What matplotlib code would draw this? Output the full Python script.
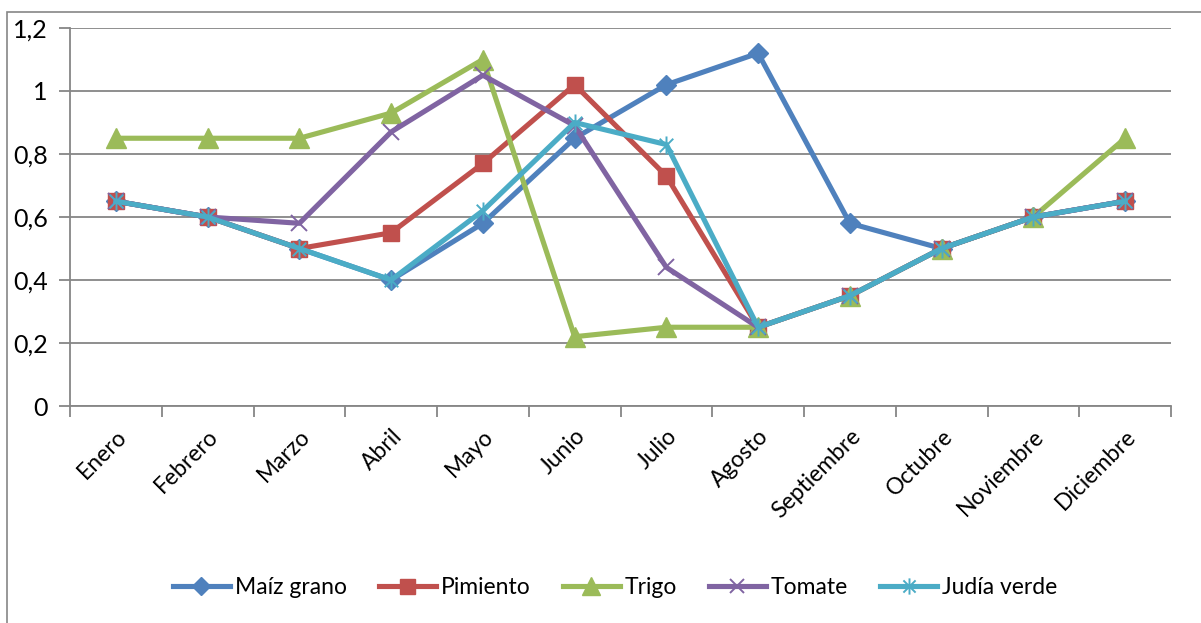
import matplotlib
matplotlib.use("Agg")
import matplotlib.pyplot as plt
from matplotlib.path import Path
from matplotlib.patches import Rectangle
from matplotlib.ticker import FixedLocator, FuncFormatter

plt.rcParams['font.family'] = ['Lato', 'DejaVu Sans']

months = ["Enero", "Febrero", "Marzo", "Abril", "Mayo", "Junio", "Julio",
          "Agosto", "Septiembre", "Octubre", "Noviembre", "Diciembre"]

maiz_grano = [0.65, 0.60, 0.50, 0.40, 0.58, 0.85, 1.02, 1.12, 0.58, 0.50, 0.60, 0.65]
pimiento = [0.65, 0.60, 0.50, 0.55, 0.77, 1.02, 0.73, 0.25, 0.35, 0.50, 0.60, 0.65]
trigo = [0.85, 0.85, 0.85, 0.93, 1.10, 0.22, 0.25, 0.25, 0.35, 0.50, 0.60, 0.85]
tomate = [0.65, 0.60, 0.58, 0.87, 1.05, 0.89, 0.44, 0.25, 0.35, 0.50, 0.60, 0.65]
judia_verde = [0.65, 0.60, 0.50, 0.40, 0.62, 0.90, 0.83, 0.25, 0.35, 0.50, 0.60, 0.65]

series_names = ["Maíz grano", "Pimiento", "Trigo", "Tomate", "Judía verde"]
y_ticks = [0, 0.2, 0.4, 0.6, 0.8, 1.0, 1.2]

# asterisk: vertical stroke plus two diagonals
star_path = Path(
    [(0, -1), (0, 1), (-0.75, -0.75), (0.75, 0.75), (-0.75, 0.75), (0.75, -0.75)],
    [Path.MOVETO, Path.LINETO, Path.MOVETO, Path.LINETO, Path.MOVETO, Path.LINETO])

styles = [
    dict(color="#4F81BD", marker="D", ms=10),
    dict(color="#C0504D", marker="s", ms=12),
    dict(color="#9BBB59", marker="^", ms=14),
    dict(color="#8064A2", marker="x", ms=11, mew=1.4),
    dict(color="#4BACC6", marker=star_path, ms=13, mew=1.4),
]

fig = plt.figure(figsize=(12.01, 6.23), dpi=100)
fig.patches.append(Rectangle((7 / 1201, -0.1), 1.2, 1 - 12 / 623 + 0.1,
                             transform=fig.transFigure, fill=False,
                             edgecolor="#868686", linewidth=1.2, zorder=0))

ax = fig.add_axes([70 / 1201, 1 - 406 / 623, (1171 - 70) / 1201, (406 - 28) / 623])

x = list(range(len(months)))
data = [maiz_grano, pimiento, trigo, tomate, judia_verde]
for name, vals, st in zip(series_names, data, styles):
    ax.plot(x, vals, color=st["color"], lw=3.7, marker=st["marker"],
            markersize=st["ms"], markeredgewidth=st.get("mew", 1),
            markerfacecolor=st["color"], markeredgecolor=st["color"],
            label=name, solid_joinstyle="round", clip_on=False)

ax.set_xlim(-0.5, len(months) - 0.5)
ax.set_ylim(0, 1.2)
ax.set_yticks(y_ticks)
ax.yaxis.set_major_formatter(FuncFormatter(lambda v, p: f"{v:g}".replace(".", ",")))
ax.grid(axis="y", color="#868686", lw=1.3)
ax.set_axisbelow(True)

ax.set_xticks(x)
ax.set_xticklabels(months, rotation=45, ha="right", rotation_mode="anchor", fontsize=16.5)
ax.xaxis.set_minor_locator(FixedLocator([i - 0.5 for i in range(len(months) + 1)]))
ax.tick_params(axis="x", which="major", length=0, pad=14)
ax.tick_params(axis="x", which="minor", length=8, width=1.3, color="#868686")
ax.tick_params(axis="y", length=8, width=1.3, color="#868686", labelsize=18, pad=8)

for side in ("top", "right"):
    ax.spines[side].set_visible(False)
for side in ("left", "bottom"):
    ax.spines[side].set_color("#868686")
    ax.spines[side].set_linewidth(1.3)

fig.legend(loc="center", bbox_to_anchor=(615 / 1201, 1 - 588 / 623), ncol=5,
           frameon=False, fontsize=16.5, handlelength=2.5, handletextpad=0.2,
           columnspacing=1.4, markerscale=0.9)

fig.savefig("out.png", dpi=100)
